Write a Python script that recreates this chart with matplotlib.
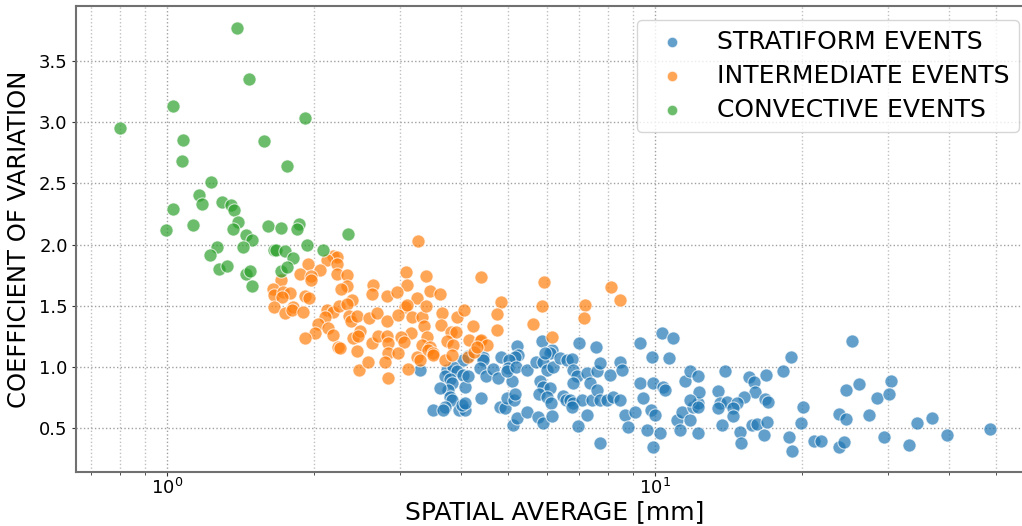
import numpy as np
import matplotlib
matplotlib.use("Agg")
import matplotlib.pyplot as plt

# ---- data ----
conv_x = [1.393, 1.475, 1.030, 1.920, 0.801, 1.080, 1.580, 1.072, 1.759, 1.231, 1.163, 1.181,
          1.030, 1.294, 1.352, 1.372, 1.400, 1.367, 0.994, 1.129, 1.613, 1.710, 1.867, 1.850,
          2.349, 1.449, 1.491, 1.433, 1.264, 1.223, 1.939, 2.090, 1.657, 1.672, 1.745, 1.815,
          1.278, 1.325, 1.449, 1.479, 1.710, 1.759, 1.496]
conv_y = [3.774, 3.354, 3.136, 3.032, 2.953, 2.852, 2.849, 2.680, 2.639, 2.511, 2.405, 2.328,
          2.290, 2.345, 2.320, 2.285, 2.184, 2.129, 2.115, 2.159, 2.148, 2.132, 2.170, 2.126,
          2.082, 2.074, 2.034, 1.976, 1.979, 1.914, 1.993, 1.957, 1.957, 1.951, 1.943, 1.889,
          1.800, 1.827, 1.761, 1.780, 1.780, 1.820, 1.657]

inter_x = [2.192, 2.227, 2.125, 1.949, 2.234, 2.058, 1.873, 1.970, 1.970, 1.710, 2.227, 2.334,
           2.338, 2.269, 1.646, 1.657, 1.731, 1.787, 1.720, 1.918, 1.957, 2.390, 2.647, 2.631,
           2.820, 1.657, 1.745, 1.815, 1.801, 1.903, 2.125, 2.192, 2.255, 2.334, 2.363, 2.379,
           2.455, 2.108, 2.042, 2.010, 2.142, 2.186, 1.918, 2.244, 2.262, 2.409, 2.486, 2.466,
           2.455, 2.477, 2.585, 2.627, 2.598, 2.698, 2.820, 2.711, 2.820, 2.841, 2.841, 2.797,
           2.841,
           3.273, 3.089, 3.390, 4.400, 3.099, 2.956, 3.249, 3.459, 3.626, 5.923, 8.112, 8.477,
           4.835, 5.859, 7.189, 7.155, 4.738, 4.752, 5.616, 6.142, 3.074, 3.099, 2.979, 3.173,
           3.326, 3.393, 3.654, 3.924, 4.061, 3.369, 3.640, 4.243, 3.158, 3.408, 3.819, 3.910,
           3.012, 3.060, 3.326, 3.459, 3.431, 3.743, 3.850, 4.163, 4.378, 4.390, 4.532, 2.979,
           3.123, 3.249, 3.300, 3.503, 3.513, 3.713, 3.832, 4.132, 4.264, 4.311]
inter_y = [1.908, 1.897, 1.876, 1.843, 1.843, 1.788, 1.761, 1.745, 1.712, 1.712, 1.761, 1.753,
           1.657, 1.636, 1.636, 1.589, 1.608, 1.603, 1.570, 1.581, 1.562, 1.548, 1.671, 1.597,
           1.575, 1.486, 1.439, 1.491, 1.466, 1.452, 1.466, 1.452, 1.499, 1.516, 1.417, 1.371,
           1.417, 1.411, 1.352, 1.276, 1.317, 1.262, 1.235, 1.158, 1.153, 1.235, 1.289, 1.248,
           1.131, 0.975, 1.043, 1.194, 1.398, 1.444, 1.371, 1.256, 1.248, 1.194, 1.117, 1.043,
           0.907,
           2.031, 1.772, 1.739, 1.734, 1.671, 1.608, 1.562, 1.616, 1.597, 1.690, 1.652, 1.543,
           1.526, 1.499, 1.507, 1.398, 1.431, 1.297, 1.349, 1.240, 1.493, 1.502, 1.425, 1.411,
           1.411, 1.499, 1.439, 1.411, 1.461, 1.330, 1.344, 1.330, 1.276, 1.240, 1.281, 1.284,
           1.243, 1.199, 1.180, 1.166, 1.139, 1.207, 1.180, 1.221, 1.215, 1.221, 1.180, 1.117,
           0.981, 1.084, 1.057, 1.112, 1.098, 1.057, 1.098, 1.084, 1.125, 1.166]

strat_x = [10.32, 10.87, 9.318, 9.844, 10.70, 7.00, 7.57, 5.859, 6.142, 6.093, 5.222, 5.238,
           5.166, 4.828, 5.028, 4.436, 4.448, 4.143, 4.036, 3.300, 3.743, 3.862, 3.924, 3.713,
           3.801, 3.832, 3.770, 4.048, 4.080, 4.143, 3.626, 3.801, 3.832, 3.513, 3.713, 3.683,
           3.967, 4.080, 4.017, 4.080, 4.378, 4.505, 4.649, 4.774, 5.005, 5.085, 4.966, 5.190,
           4.390, 4.813, 4.928, 4.966, 5.140, 5.166, 5.110, 5.222, 5.459, 5.459, 5.704, 5.903,
           5.951, 5.998, 6.188, 5.811, 5.903, 6.093, 5.788, 5.998, 6.113, 5.767, 5.889, 6.142,
           6.387, 6.592, 6.749, 6.800, 6.911, 6.800, 6.468, 6.580, 6.710, 6.800, 7.077, 7.418,
           6.749, 6.960, 7.244, 7.714, 7.244, 7.362, 7.600, 7.714, 7.600, 7.714, 7.962, 8.087,
           8.213, 8.477, 8.545, 8.477, 8.679, 8.818, 9.10, 9.318, 9.46, 9.80, 9.89, 10.0,
           10.24, 10.40, 10.48, 9.92, 9.61, 11.08, 11.34, 11.25, 11.80, 11.98, 11.52, 11.80,
           12.27, 12.27, 12.27,
           25.37, 18.97, 18.27, 13.91, 15.58, 15.96, 16.03, 16.86, 13.48, 12.33, 11.80, 12.27,
           13.60, 14.03, 13.48, 15.24, 14.71, 14.47, 14.47, 16.80, 17.07, 20.07, 24.59, 26.18,
           28.47, 27.45, 23.79, 24.63, 30.41, 30.17, 34.47, 36.90, 29.47, 33.11, 39.61, 48.53,
           13.70, 14.94, 14.98, 15.78, 16.16, 16.75, 16.99, 18.79, 19.09, 19.89, 21.21, 21.85,
           23.86, 24.40]
strat_y = [1.276, 1.235, 1.194, 1.084, 1.076, 1.194, 1.158, 1.207, 1.139, 1.117, 1.174, 1.098,
           1.084, 1.084, 1.057, 1.084, 1.057, 1.090, 1.052, 0.975, 0.975, 1.002, 0.962, 0.921,
           0.899, 0.867, 0.812, 0.935, 0.839, 0.921, 0.826, 0.757, 0.730, 0.648, 0.675, 0.648,
           0.648, 0.648, 0.689, 0.703, 0.989, 0.921, 0.981, 0.907, 0.989, 0.880, 0.962, 1.002,
           0.744, 0.675, 0.662, 0.744, 0.730, 0.779, 0.525, 0.580, 0.634, 0.975, 1.043, 1.043,
           1.112, 0.975, 1.002, 0.880, 0.839, 0.826, 0.779, 0.757, 0.703, 0.593, 0.539, 0.599,
           1.070, 1.057, 1.062, 0.975, 0.921, 0.867, 0.763, 0.730, 0.730, 0.703, 0.730, 0.730,
           0.675, 0.517, 0.607, 0.375, 0.948, 0.867, 0.962, 1.030, 0.812, 0.730, 0.730, 0.935,
           0.757, 1.043, 0.975, 0.730, 0.607, 0.511, 0.634, 0.867, 0.744, 0.648, 0.867, 0.607,
           0.457, 0.839, 0.812, 0.348, 0.484, 0.566, 0.634, 0.484, 0.566, 0.675, 0.880, 0.962,
           0.921, 0.703, 0.457,
           1.210, 1.079, 0.967, 0.967, 0.916, 0.872, 0.798, 0.929, 0.804, 0.793, 0.730, 0.675,
           0.703, 0.716, 0.662, 0.757, 0.703, 0.662, 0.599, 0.735, 0.716, 0.675, 0.812, 0.861,
           0.746, 0.605, 0.615, 0.577, 0.888, 0.779, 0.544, 0.580, 0.430, 0.359, 0.444, 0.490,
           0.525, 0.471, 0.376, 0.525, 0.531, 0.444, 0.552, 0.430, 0.315, 0.539, 0.397, 0.397,
           0.348, 0.386]

labels = ["STRATIFORM EVENTS", "INTERMEDIATE EVENTS", "CONVECTIVE EVENTS"]
colors = ["#1f77b4", "#ff7f0e", "#2ca02c"]

W, H = 1022, 526
fig = plt.figure(figsize=(W / 100, H / 100), dpi=100)
left, right, bottom, top = 76, 1033, 472, 6
ax = fig.add_axes([left / W, 1 - bottom / H, (right - left) / W, (bottom - top) / H])

for xs, ys, lab, col in zip([strat_x, inter_x, conv_x], [strat_y, inter_y, conv_y], labels, colors):
    ax.scatter(xs, ys, s=90, c=col, alpha=0.7, edgecolors="white", linewidths=0.8, label=lab, zorder=3)

ax.set_xscale("log")
ax.set_xlim(0.651, 59.5)
ax.set_ylim(0.14, 3.95)
ax.set_yticks([0.5, 1.0, 1.5, 2.0, 2.5, 3.0, 3.5])

ax.grid(True, which="major", linestyle=":", color="#a0a0a0", linewidth=1.0, zorder=0)
ax.grid(True, which="minor", axis="x", linestyle=":", color="#c0c0c0", linewidth=1.0, zorder=0)

for sp in ax.spines.values():
    sp.set_color("#707070")
    sp.set_linewidth(1.5)

ax.tick_params(axis="both", which="major", labelsize=13, length=3, color="#333333")
ax.tick_params(axis="x", which="major", pad=1.5)
ax.tick_params(axis="y", which="major", pad=3)
ax.tick_params(axis="x", which="minor", length=2, color="#333333")
ax.set_xlabel("SPATIAL AVERAGE [mm]", fontsize=18, labelpad=1)
ax.set_ylabel("COEFFICIENT OF VARIATION", fontsize=17.5, labelpad=6)

leg = ax.legend(loc="upper right", bbox_to_anchor=(1019 / W, 1 - 20 / H),
                bbox_transform=fig.transFigure, borderaxespad=0, fontsize=18,
                markerscale=0.8, handletextpad=0.8, framealpha=0.8, borderpad=0.4,
                labelspacing=0.4)
leg.get_frame().set_edgecolor("#cccccc")

fig.savefig("out.png", dpi=100)
